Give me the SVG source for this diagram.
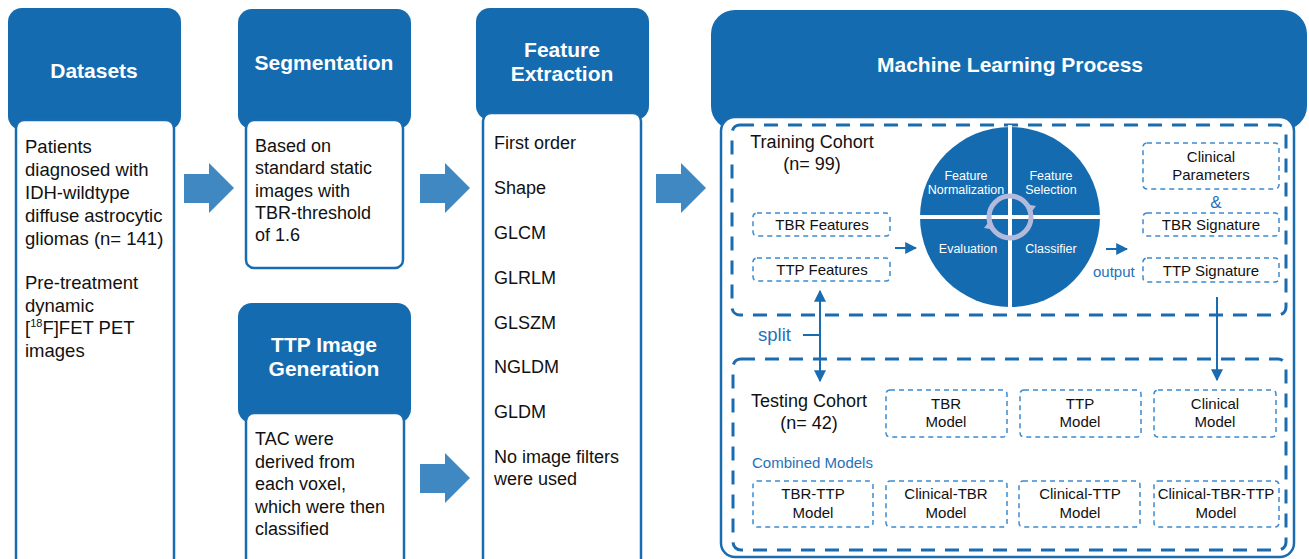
<svg xmlns="http://www.w3.org/2000/svg" width="1309" height="559" viewBox="0 0 1309 559">
<defs>
<style>
.hdr{fill:#146bb0;}
.body{fill:#fff;stroke:#1a6cb0;stroke-width:2.5;}
.ht{font-family:"Liberation Sans",Arial,sans-serif;font-weight:bold;font-size:21px;fill:#fff;text-anchor:middle;}
.bt{font-family:"Liberation Sans",Arial,sans-serif;font-size:18px;fill:#111;}
.big{fill:none;stroke:#1a6cb0;stroke-width:3;stroke-dasharray:14 10;}
.sm{fill:none;stroke:#3d8ad0;stroke-width:1.5;stroke-dasharray:5 4;}
.st{font-family:"Liberation Sans",Arial,sans-serif;font-size:15px;fill:#111;text-anchor:middle;}
.ct{font-family:"Liberation Sans",Arial,sans-serif;font-size:12.5px;fill:#fff;text-anchor:middle;}
.blt{font-family:"Liberation Sans",Arial,sans-serif;font-size:15px;fill:#1f72bb;}
.barrow{fill:#3f88c2;}
.ln{stroke:#1a6cb0;stroke-width:2;fill:none;}
</style>
<marker id="ah" viewBox="0 0 10 10" refX="9" refY="5" markerWidth="6" markerHeight="6" orient="auto-start-reverse">
<path d="M0,0 L10,5 L0,10 Z" fill="#1a6cb0"/>
</marker>
</defs>

<g id="datasets">
<rect class="hdr" x="8" y="8" width="173" height="122" rx="14"/>
<rect class="body" x="16" y="120" width="158" height="446" rx="8"/>
<text class="ht" x="94" y="78">Datasets</text>
<text class="bt" style="font-size:18.5px">
<tspan x="25" y="153">Patients</tspan>
<tspan x="25" y="176">diagnosed with</tspan>
<tspan x="25" y="199">IDH-wildtype</tspan>
<tspan x="25" y="222">diffuse astrocytic</tspan>
<tspan x="25" y="245">gliomas (n= 141)</tspan>
<tspan x="25" y="289">Pre-treatment</tspan>
<tspan x="25" y="312">dynamic</tspan>
<tspan x="25" y="334">[<tspan style="font-size:11px" dy="-7">18</tspan><tspan dy="7">F]FET PET</tspan></tspan>
<tspan x="25" y="357">images</tspan>
</text>
</g>

<g id="segmentation">
<rect class="hdr" x="238" y="9" width="173" height="120" rx="14"/>
<rect class="body" x="246" y="120" width="157" height="148" rx="8"/>
<text class="ht" x="324" y="70">Segmentation</text>
<text class="bt">
<tspan x="255" y="152">Based on</tspan>
<tspan x="255" y="174">standard static</tspan>
<tspan x="255" y="197">images with</tspan>
<tspan x="255" y="219">TBR-threshold</tspan>
<tspan x="255" y="241">of 1.6</tspan>
</text>
</g>

<g id="ttp-generation">
<rect class="hdr" x="238" y="303" width="173" height="120" rx="14"/>
<rect class="body" x="246" y="413" width="158" height="160" rx="8"/>
<text class="ht" x="324" y="352">TTP Image</text>
<text class="ht" x="324" y="376">Generation</text>
<text class="bt">
<tspan x="255" y="445">TAC were</tspan>
<tspan x="255" y="468">derived from</tspan>
<tspan x="255" y="490">each voxel,</tspan>
<tspan x="255" y="513">which were then</tspan>
<tspan x="255" y="535">classified</tspan>
</text>
</g>

<g id="feature-extraction">
<rect class="hdr" x="476" y="8" width="173" height="112" rx="14"/>
<rect class="body" x="483" y="113" width="158" height="455" rx="8"/>
<text class="ht" x="562" y="57">Feature</text>
<text class="ht" x="562" y="81">Extraction</text>
<text class="bt">
<tspan x="494" y="149">First order</tspan>
<tspan x="494" y="194">Shape</tspan>
<tspan x="494" y="239">GLCM</tspan>
<tspan x="494" y="284">GLRLM</tspan>
<tspan x="494" y="329">GLSZM</tspan>
<tspan x="494" y="373">NGLDM</tspan>
<tspan x="494" y="418">GLDM</tspan>
<tspan x="494" y="463">No image filters</tspan>
<tspan x="494" y="485">were used</tspan>
</text>
</g>

<g id="ml-process">
<rect class="hdr" x="711" y="10" width="596" height="120" rx="24"/>
<rect class="body" x="721" y="117" width="573" height="440" rx="14"/>
<text class="ht" x="1010" y="72">Machine Learning Process</text>
</g>

<g id="training-cohort">
<rect class="big" x="732" y="125" width="554" height="190" rx="8"/>
<text class="bt" x="812" y="148" text-anchor="middle">Training Cohort</text>
<text class="bt" x="812" y="170" text-anchor="middle">(n= 99)</text>
</g>

<g id="tbr-features">
<rect class="sm" x="753" y="213" width="137" height="23" rx="4"/>
<text class="st" x="822" y="230">TBR Features</text>
</g>
<g id="ttp-features">
<rect class="sm" x="753" y="258" width="137" height="23" rx="4"/>
<text class="st" x="822" y="275">TTP Features</text>
</g>

<g id="ml-cycle">
<path d="M1010,217 L1010,127 A90,90 0 0 0 920,217 Z" fill="#146bb0"/>
<path d="M1010,217 L1100,217 A90,90 0 0 0 1010,127 Z" fill="#146bb0"/>
<path d="M1010,217 L920,217 A90,90 0 0 0 1010,307 Z" fill="#146bb0"/>
<path d="M1010,217 L1010,307 A90,90 0 0 0 1100,217 Z" fill="#146bb0"/>
<line x1="1010" y1="125" x2="1010" y2="309" stroke="#fff" stroke-width="4"/>
<line x1="918" y1="217" x2="1102" y2="217" stroke="#fff" stroke-width="4"/>
<circle cx="1010" cy="217" r="21" fill="none" stroke="#b3badb" stroke-width="5"/>
<path d="M1025,204 L1036,206 L1029,215 Z" fill="#b3badb"/>
<path d="M995,230 L984,228 L991,219 Z" fill="#b3badb"/>
<text class="ct"><tspan x="966" y="180">Feature</tspan><tspan x="966" y="194">Normalization</tspan></text>
<text class="ct"><tspan x="1051" y="180">Feature</tspan><tspan x="1051" y="194">Selection</tspan></text>
<text class="ct" x="968" y="253">Evaluation</text>
<text class="ct" x="1051" y="253">Classifier</text>
</g>

<g id="clinical-parameters">
<rect class="sm" x="1143" y="143" width="136" height="46" rx="4"/>
<text class="st"><tspan x="1211" y="162">Clinical</tspan><tspan x="1211" y="180">Parameters</tspan></text>
</g>
<text class="blt" x="1216" y="208" text-anchor="middle" style="font-size:17px">&amp;</text>
<g id="tbr-signature">
<rect class="sm" x="1143" y="213" width="136" height="23" rx="4"/>
<text class="st" x="1211" y="230">TBR Signature</text>
</g>
<g id="ttp-signature">
<rect class="sm" x="1143" y="258" width="136" height="24" rx="4"/>
<text class="st" x="1211" y="276">TTP Signature</text>
</g>

<g id="testing-cohort">
<rect class="big" x="733" y="359" width="553" height="191" rx="8"/>
<text class="bt" x="809" y="407" text-anchor="middle">Testing Cohort</text>
<text class="bt" x="809" y="429" text-anchor="middle">(n= 42)</text>
<text class="blt" x="752" y="468">Combined Models</text>
</g>

<g id="tbr-model">
<rect class="sm" x="886" y="390" width="121" height="47" rx="4"/>
<text class="st"><tspan x="946" y="409">TBR</tspan><tspan x="946" y="427">Model</tspan></text>
</g>
<g id="ttp-model">
<rect class="sm" x="1020" y="390" width="121" height="47" rx="4"/>
<text class="st"><tspan x="1080" y="409">TTP</tspan><tspan x="1080" y="427">Model</tspan></text>
</g>
<g id="clinical-model">
<rect class="sm" x="1154" y="390" width="122" height="47" rx="4"/>
<text class="st"><tspan x="1215" y="409">Clinical</tspan><tspan x="1215" y="427">Model</tspan></text>
</g>
<g id="tbr-ttp-model">
<rect class="sm" x="753" y="481" width="120" height="46" rx="4"/>
<text class="st"><tspan x="813" y="499">TBR-TTP</tspan><tspan x="813" y="518">Model</tspan></text>
</g>
<g id="clinical-tbr-model">
<rect class="sm" x="886" y="481" width="121" height="46" rx="4"/>
<text class="st"><tspan x="946" y="499">Clinical-TBR</tspan><tspan x="946" y="518">Model</tspan></text>
</g>
<g id="clinical-ttp-model">
<rect class="sm" x="1019" y="481" width="121" height="46" rx="4"/>
<text class="st"><tspan x="1080" y="499">Clinical-TTP</tspan><tspan x="1080" y="518">Model</tspan></text>
</g>
<g id="clinical-tbr-ttp-model">
<rect class="sm" x="1154" y="481" width="125" height="46" rx="4"/>
<text class="st"><tspan x="1216" y="499">Clinical-TBR-TTP</tspan><tspan x="1216" y="518">Model</tspan></text>
</g>

<g id="connectors">
<path class="barrow" d="M184,174 H209 V163 L234,188 L209,213 V203 H184 Z"/>
<path class="barrow" d="M420,174 H445 V163 L470,188 L445,213 V203 H420 Z"/>
<path class="barrow" d="M420,464 H445 V453 L470,478 L445,503 V493 H420 Z"/>
<path class="barrow" d="M656,174 H681 V163 L706,188 L681,213 V203 H656 Z"/>
<line class="ln" x1="895" y1="248" x2="916" y2="248" marker-end="url(#ah)"/>
<line class="ln" x1="1106" y1="249" x2="1127" y2="249" marker-end="url(#ah)"/>
<text class="blt" x="1093" y="277">output</text>
<line class="ln" x1="820" y1="291" x2="820" y2="381" marker-start="url(#ah)" marker-end="url(#ah)"/>
<line class="ln" x1="803" y1="335" x2="820" y2="335"/>
<text class="blt" x="758" y="341" style="font-size:18.5px">split</text>
<line class="ln" x1="1217" y1="297" x2="1217" y2="380" marker-end="url(#ah)"/>
</g>
</svg>
